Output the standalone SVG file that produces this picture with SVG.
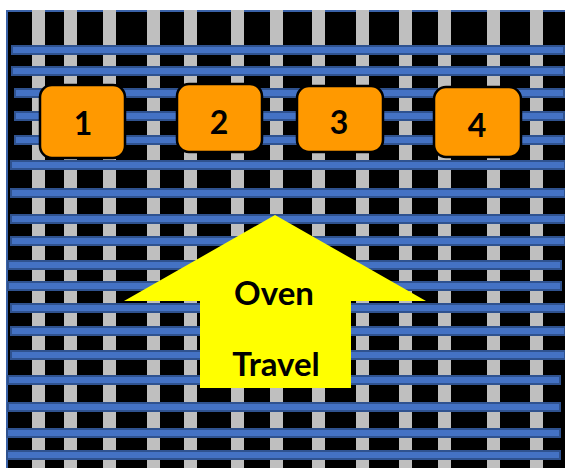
<svg xmlns="http://www.w3.org/2000/svg" width="565" height="468" viewBox="0 0 565 468">
  <style>
    .rail { fill: #BFBFBF; }
    .belt { fill: #4472C4; stroke: #2F528F; stroke-width: 2; }
    .box { fill: #FF9900; stroke: #000; stroke-width: 2.5; }
    .num { font-family: Lato, "Open Sans", "Liberation Sans", sans-serif; font-weight: bold; font-size: 32px; fill: #000; text-anchor: middle; }
    .lbl { font-family: Lato, "Open Sans", "Liberation Sans", sans-serif; font-weight: bold; font-size: 33px; fill: #000; text-anchor: middle; }
  </style>
  <rect width="565" height="468" fill="#fff"/>
  <!-- oven floor -->
  <rect x="7" y="11" width="570" height="470" fill="#000" stroke="#3A62A8" stroke-width="2"/>
  <!-- vertical rails -->
  <g id="rails">
    <rect class="rail" x="32" y="10" width="13" height="460"/>
    <rect class="rail" x="64" y="10" width="13" height="460"/>
    <rect class="rail" x="103" y="10" width="13" height="460"/>
    <rect class="rail" x="147" y="10" width="13" height="460"/>
    <rect class="rail" x="184" y="10" width="13" height="460"/>
    <rect class="rail" x="231" y="10" width="13" height="460"/>
    <rect class="rail" x="270" y="10" width="13" height="460"/>
    <rect class="rail" x="312" y="10" width="13" height="460"/>
    <rect class="rail" x="356" y="10" width="13" height="460"/>
    <rect class="rail" x="399" y="10" width="13" height="460"/>
    <rect class="rail" x="438" y="10" width="13" height="460"/>
    <rect class="rail" x="487" y="10" width="13" height="460"/>
    <rect class="rail" x="530" y="10" width="13" height="460"/>
  </g>
  <!-- horizontal belts -->
  <g id="belts">
    <rect class="belt" x="12" y="46" width="552" height="8"/>
    <rect class="belt" x="12" y="67" width="552" height="8"/>
    <rect class="belt" x="15" y="89" width="549" height="8"/>
    <rect class="belt" x="15" y="112" width="549" height="8"/>
    <rect class="belt" x="15" y="136" width="549" height="8"/>
    <rect class="belt" x="11" y="161" width="554" height="8"/>
    <rect class="belt" x="11" y="189" width="554" height="8"/>
    <rect class="belt" x="11" y="215" width="554" height="8"/>
    <rect class="belt" x="11" y="237" width="554" height="8"/>
    <rect class="belt" x="8" y="261" width="553" height="8"/>
    <rect class="belt" x="8" y="282" width="553" height="8"/>
    <rect class="belt" x="11" y="304" width="554" height="8"/>
    <rect class="belt" x="11" y="327" width="554" height="8"/>
    <rect class="belt" x="11" y="351" width="554" height="8"/>
    <rect class="belt" x="8" y="376" width="552" height="8"/>
    <rect class="belt" x="8" y="403" width="552" height="8"/>
    <rect class="belt" x="7" y="429" width="553" height="8"/>
    <rect class="belt" x="7" y="451" width="553" height="8"/>
  </g>
  <g id="node1">
    <rect class="box" x="40" y="85" width="85" height="73" rx="12"/>
    <text class="num" x="83" y="135">1</text>
  </g>
  <g id="node2">
    <rect class="box" x="177" y="84" width="85" height="68" rx="12"/>
    <text class="num" x="219" y="134">2</text>
  </g>
  <g id="node3">
    <rect class="box" x="297" y="86" width="86" height="66" rx="12"/>
    <text class="num" x="339" y="134">3</text>
  </g>
  <g id="node4">
    <rect class="box" x="434" y="87" width="87" height="70" rx="12"/>
    <text class="num" x="477" y="137">4</text>
  </g>
  <g id="travel">
    <polygon points="275,215 426,301 351,301 351,388 200,388 200,301 124,301" fill="#FFFF00"/>
    <text class="lbl" x="274" y="305">Oven</text>
    <text class="lbl" x="276" y="376">Travel</text>
  </g>
</svg>
